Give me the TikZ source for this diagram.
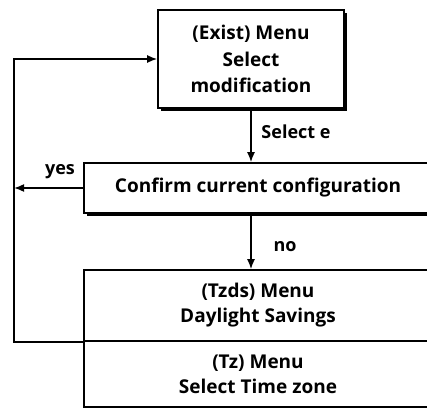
\documentclass[tikz,border=0pt]{standalone}
\usepackage{fontspec}
\setmainfont{Open Sans}
\usetikzlibrary{arrows.meta,shadows}
\begin{document}
\begin{tikzpicture}[x=1pt,y=-1pt,
  box/.style={draw, line width=1.6pt, fill=white, inner sep=0pt, align=center,
    font=\bfseries\fontsize{19}{26.5}\selectfont},
  shadowed/.style={drop shadow={shadow xshift=2.6pt, shadow yshift=-2.6pt, opacity=1, fill=black}},
  conn/.style={line width=1.6pt, -{Latex[length=10pt,width=8pt]}},
  lbl/.style={font=\bfseries\fontsize{18}{20}\selectfont, inner sep=0pt}]
\useasboundingbox (0,0) rectangle (427,411);
\clip (0,0) rectangle (427,411);
\node[box, shadowed, minimum width=186pt, minimum height=98pt] (exist) at (251,59)
  {(Exist) Menu\\Select\\modification};
\node[box, shadowed, minimum width=348pt, minimum height=50pt] (conf) at (258,188)
  {Confirm current configuration};
\node[box, minimum width=348pt, minimum height=71pt, font=\bfseries\fontsize{19}{25}\selectfont] (tzds) at (258,305.5)
  {(Tzds) Menu\\Daylight Savings};
\node[box, minimum width=348pt, minimum height=66pt, font=\bfseries\fontsize{19}{25}\selectfont] (tz) at (258,374)
  {(Tz) Menu\\Select Time zone};
\coordinate (L) at (14,0);
\draw[conn] (exist.south) -- (exist.south |- conf.north);
\draw[conn] (conf.south -| exist.south) -- (tzds.north -| exist.south);
\draw[conn] (conf.west) -- (conf.west -| L);
\draw[conn] (tzds.south west) -- (tzds.south west -| L) |- (exist.west);
\node[lbl] (sel) at (296,132) {Select e};
\node[lbl] (no) at (285,247) {no};
\node[lbl] (yes) at (60,172) {yes};
\end{tikzpicture}
\end{document}
